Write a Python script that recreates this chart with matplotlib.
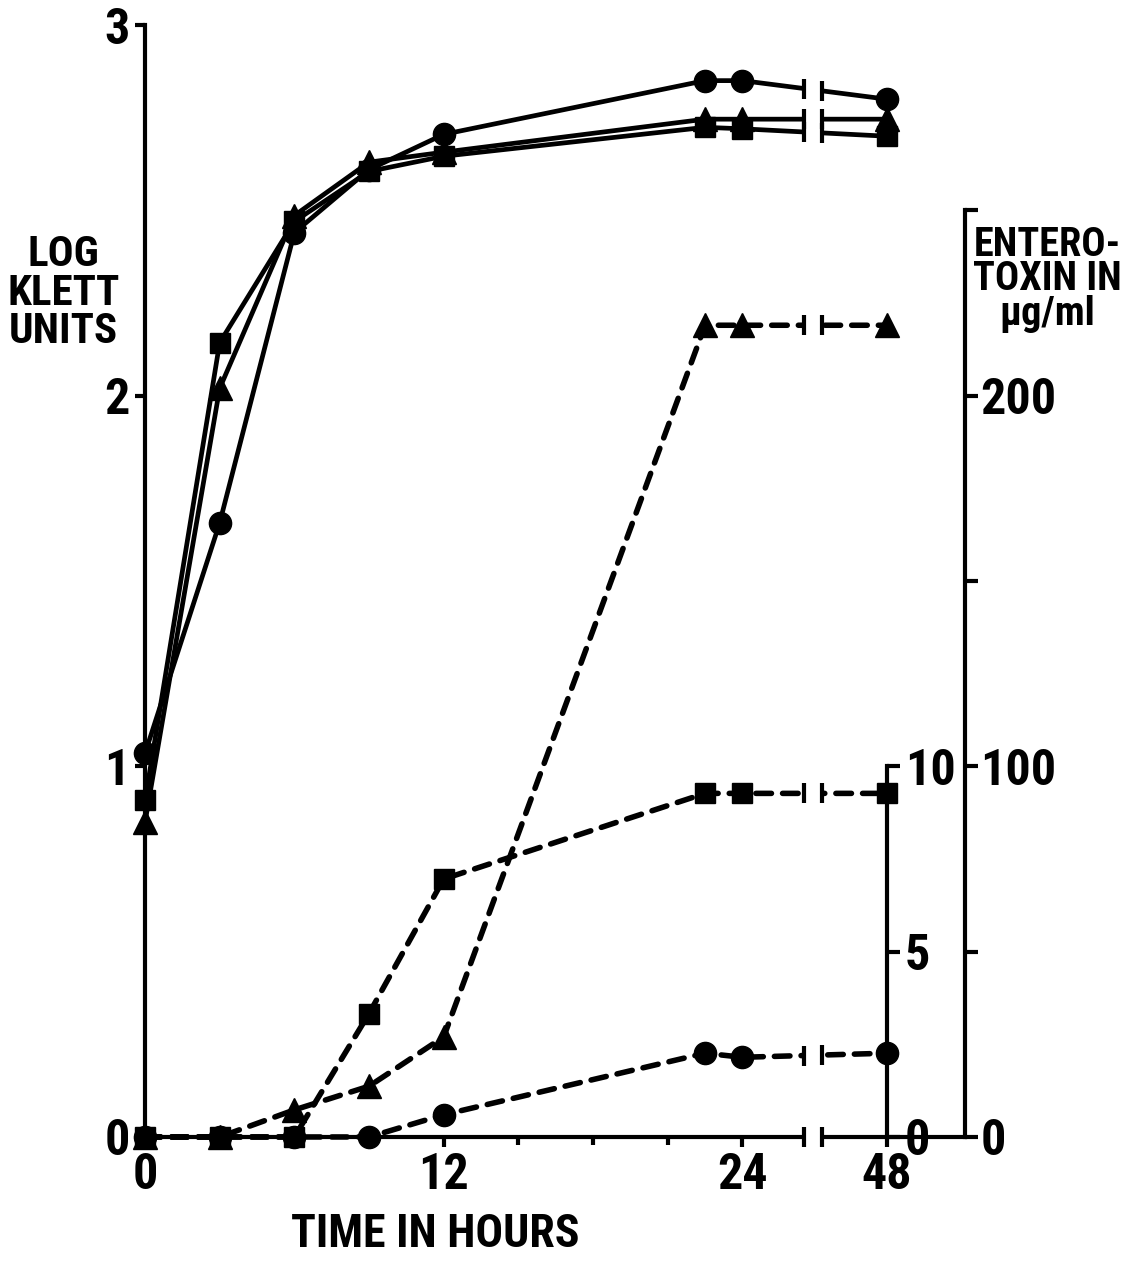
import numpy as np
import matplotlib
matplotlib.use("Agg")
import matplotlib.pyplot as plt
from matplotlib import font_manager

# sampling times (hours)
hours = [0, 3, 6, 9, 12, 22.5, 24, 48]

# growth, log Klett units (solid lines)
klett_circle = [1.035, 1.657, 2.44, 2.61, 2.705, 2.85, 2.85, 2.80]
klett_square = [0.908, 2.143, 2.47, 2.605, 2.646, 2.724, 2.72, 2.70]
klett_triangle = [0.849, 2.02, 2.486, 2.63, 2.657, 2.746, 2.746, 2.746]

# enterotoxin, ug/ml (dashed lines)
tox_triangle = [0, 0, 7.3, 13.7, 27, 219, 219, 219]   # outer scale 0-250
tox_square = [0, 0, 0, 3.33, 6.96, 9.27, 9.27, 9.27]   # inner scale 0-10
tox_circle = [0, 0, 0, 0, 0.6, 2.26, 2.15, 2.26]       # inner scale 0-10

x_major = [0, 12, 24, 48]
x_major_labels = ["0", "12", "24", "48"]
x_minor = [3, 6, 9, 15, 18, 21]
klett_ticks = [0, 1, 2, 3]
outer_ticks = [0, 50, 100, 150, 200, 250]
outer_labels = ["0", "", "100", "", "200", ""]
inner_ticks = [0, 5, 10]
inner_labels = ["0", "5", "10"]

# pick a condensed bold face if one is around
names = {f.name for f in font_manager.fontManager.ttflist}
for fam in ["Roboto Condensed", "Liberation Sans Narrow", "DejaVu Sans Condensed", "DejaVu Sans"]:
    if fam in names:
        break
plt.rcParams["font.family"] = fam
plt.rcParams["font.weight"] = "bold"

# time axis is squeezed after 24 h
SQUEEZE = 0.2417


def fwd(t):
    t = np.asarray(t, float)
    return np.where(t <= 24, t, 24 + (t - 24) * SQUEEZE)


def inv(u):
    u = np.asarray(u, float)
    return np.where(u <= 24, u, 24 + (u - 24) / SQUEEZE)


GAP = (34.3, 37.2)   # hours hidden by the axis break

fig = plt.figure(figsize=(11.33, 12.64), dpi=100)
ax = fig.add_axes([0.128, 0.1005, 0.7237, 0.8797])
ax.set_xscale("function", functions=(fwd, inv))
ax.set_xlim(0, 61)
ax.set_ylim(0, 3)

ax_tox = ax.twinx()
ax_tox.set_ylim(0, 300)
ax_in = ax.twinx()
ax_in.set_ylim(0, 30)

LW = 3
solid = dict(color="black", lw=3.4, clip_on=False, solid_capstyle="round")
dashed = dict(color="black", lw=4, ls=(0, (2.8, 2.0)), clip_on=False,
              dash_capstyle="round")

ax.plot(hours, klett_circle, marker="o", ms=16, **solid)
ax.plot(hours, klett_square, marker="s", ms=14, **solid)
ax.plot(hours, klett_triangle, marker="^", ms=17, **solid)

ax_tox.plot(hours, tox_triangle, marker="^", ms=17, **dashed)
ax_in.plot(hours, tox_square, marker="s", ms=14, **dashed)
ax_in.plot(hours, tox_circle, marker="o", ms=16, **dashed)

# spines and ticks
for a in (ax, ax_tox, ax_in):
    for s in a.spines.values():
        s.set_visible(False)
        s.set_linewidth(LW)

ax.spines["left"].set_visible(True)
ax.spines["left"].set_bounds(0, 3)
ax.spines["bottom"].set_visible(True)
ax.set_yticks(klett_ticks)
ax.set_yticklabels([str(v) for v in klett_ticks])
ax.set_xticks(x_major)
ax.set_xticklabels(x_major_labels)
ax.set_xticks(x_minor, minor=True)
ax.tick_params(axis="both", which="both", width=LW, length=7, labelsize=36, pad=4)
ax.tick_params(axis="x", which="minor", length=6)

ax_tox.spines["right"].set_visible(True)
ax_tox.spines["right"].set_bounds(0, 250)
ax_tox.set_yticks(outer_ticks)
ax_tox.set_yticklabels(outer_labels)
ax_tox.tick_params(axis="y", width=LW, length=9, labelsize=36, pad=2)

ax_in.spines["right"].set_visible(True)
ax_in.spines["right"].set_position(("data", 48))
ax_in.spines["right"].set_bounds(0, 10)
ax_in.set_yticks([v * 1.0 for v in inner_ticks])
ax_in.set_yticklabels(inner_labels)
ax_in.tick_params(axis="y", width=LW, length=9, labelsize=36, pad=4)

# axis break between 24 and 48 h
ax_in.axvspan(GAP[0], GAP[1], ymin=-0.01, ymax=1, color="white", zorder=10,
              clip_on=False)
edges = np.array(GAP)
bar = dict(marker="|", ms=15, mew=3, color="black", ls="none", zorder=11,
           clip_on=False)
for a, ys in ((ax, klett_circle), (ax, klett_square), (ax, klett_triangle),
              (ax_tox, tox_triangle), (ax_in, tox_square), (ax_in, tox_circle)):
    yb = np.interp(fwd(edges), fwd([24, 48]), [ys[6], ys[7]])
    ax_in.plot(edges, yb, transform=a.transData, **bar)
ax_in.plot(edges, [0, 0], transform=ax.transData, **bar)

# axis titles
fig.text(0.056, 0.768, "LOG\nKLETT\nUNITS", ha="center", va="center",
         fontsize=31, linespacing=0.92)
fig.text(0.924, 0.779, "ENTERO-\nTOXIN IN\n\u00b5g/ml", ha="center", va="center",
         fontsize=29, linespacing=0.88)
fig.text(0.384, 0.024, "TIME IN HOURS", ha="center", va="center", fontsize=33)

fig.savefig("out.png", dpi=100, facecolor="white")
